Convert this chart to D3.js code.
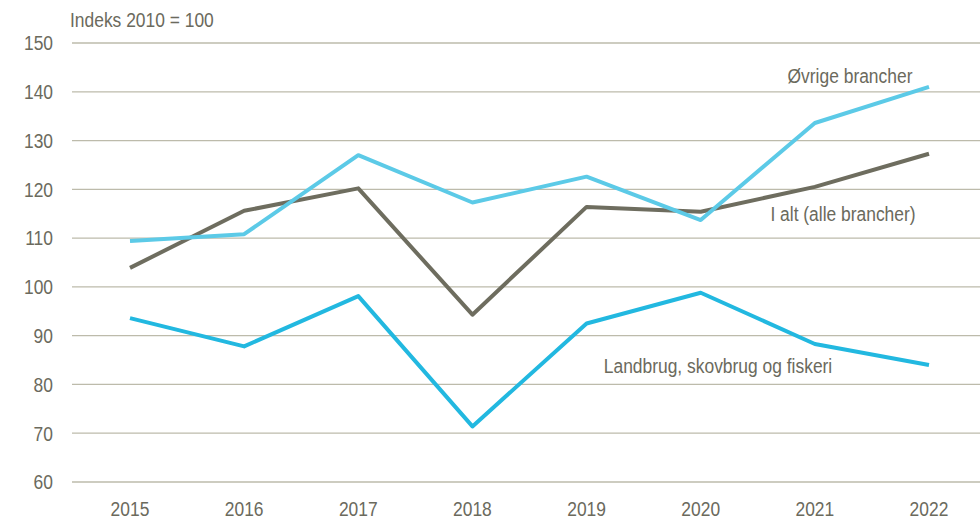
<!DOCTYPE html>
<html>
<head>
<meta charset="utf-8">
<script src="https://cdn.jsdelivr.net/npm/d3@7"></script>
<style>
  body { margin: 0; background: #fff; }
  #chart { width: 980px; height: 524px; }
  text { font-family: "Liberation Sans Narrow", "Arial Narrow", "Liberation Sans", sans-serif; fill: #6b6a5d; font-size: 21px; }
</style>
</head>
<body>
<div id="chart"></div>
<script>
// data
let years = ["2015", "2016", "2017", "2018", "2019", "2020", "2021", "2022"];
let iAlt = [103.9, 115.6, 120.2, 94.3, 116.4, 115.4, 120.5, 127.3];
let ovrige = [109.4, 110.8, 127.0, 117.3, 122.6, 113.7, 133.6, 141.0];
let landbrug = [93.6, 87.8, 98.1, 71.4, 92.5, 98.8, 88.3, 84.0];
let yTicks = [60, 70, 80, 90, 100, 110, 120, 130, 140, 150];

let series = [
    {name: "Landbrug, skovbrug og fiskeri", values: landbrug, color: "#22b8e0", lx: 718, ly: 373},
    {name: "I alt (alle brancher)", values: iAlt, color: "#6e6d5f", lx: 843, ly: 221},
    {name: "Øvrige brancher", values: ovrige, color: "#5ccae7", lx: 850, ly: 83}
];

let margin = {top: 43, right: 0, bottom: 42, left: 72};
let width = 980 - margin.left - margin.right;
let height = 524 - margin.top - margin.bottom;

// narrow look: squeeze text horizontally
let squeeze = 0.83;
let place = (px, py) => "translate(" + px + "," + py + ") scale(" + squeeze + ",1)";

let svg = d3.select("#chart").append("svg")
    .attr("width", 980)
    .attr("height", 524)
    .append("g")
    .attr("transform", "translate(" + margin.left + "," + margin.top + ")");

let x = d3.scalePoint().domain(years).range([58, 857]);
let y = d3.scaleLinear().domain([60, 150]).range([height, 0]);

// gridlines
svg.selectAll(".grid")
    .data(yTicks)
    .enter().append("line")
    .attr("class", "grid")
    .attr("x1", 0)
    .attr("x2", width)
    .attr("y1", d => y(d))
    .attr("y2", d => y(d))
    .attr("stroke", "#bdbbab")
    .attr("stroke-width", 1.3);

// y labels
svg.selectAll(".ylab")
    .data(yTicks)
    .enter().append("text")
    .attr("class", "ylab")
    .attr("transform", d => place(-19, y(d)))
    .attr("dy", "0.35em")
    .attr("text-anchor", "end")
    .text(d => d);

// x labels
svg.selectAll(".xlab")
    .data(years)
    .enter().append("text")
    .attr("class", "xlab")
    .attr("transform", d => place(x(d), height + 34))
    .attr("text-anchor", "middle")
    .text(d => d);

svg.append("text")
    .attr("transform", place(-2, -16))
    .text("Indeks 2010 = 100");

let line = d3.line()
    .x((d, i) => x(years[i]))
    .y(d => y(d));

svg.selectAll(".series")
    .data(series)
    .enter().append("path")
    .attr("class", "series")
    .attr("d", d => line(d.values))
    .attr("fill", "none")
    .attr("stroke", d => d.color)
    .attr("stroke-width", 4)
    .attr("stroke-linejoin", "round");

svg.selectAll(".slab")
    .data(series)
    .enter().append("text")
    .attr("class", "slab")
    .attr("transform", d => place(d.lx - margin.left, d.ly - margin.top))
    .attr("text-anchor", "middle")
    .text(d => d.name);
</script>
</body>
</html>
